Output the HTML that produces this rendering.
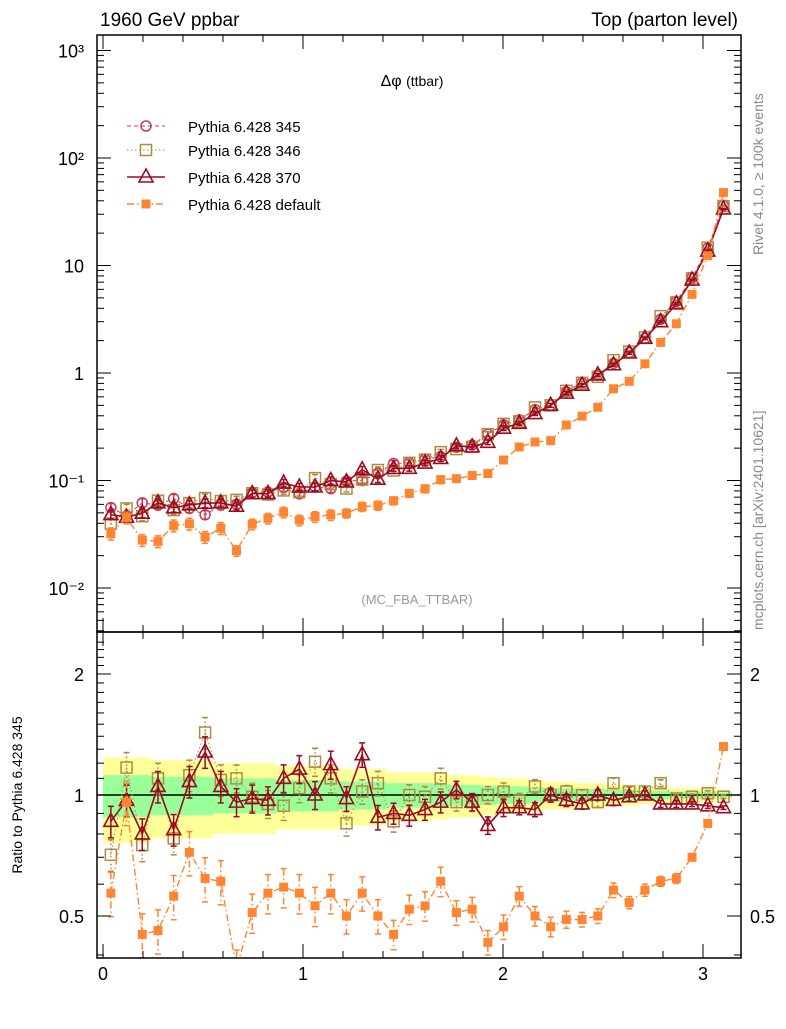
<!DOCTYPE html>
<html><head><meta charset="utf-8"><style>
body{margin:0;background:#fff;}
svg text{font-family:"Liberation Sans",sans-serif;}
</style></head><body>
<svg id="c" width="786" height="1024" xmlns="http://www.w3.org/2000/svg">
<rect width="786" height="1024" fill="#fff"/>
<g id="bands"></g><g id="marks"></g><g id="axes"></g>
<text x="100" y="26" font-size="19">1960 GeV ppbar</text>
<text x="738" y="26" font-size="19" text-anchor="end">Top (parton level)</text>
<text x="412" y="86" font-size="16" text-anchor="middle">Δφ <tspan font-size="14">(ttbar)</tspan></text>
<text x="417" y="604" font-size="13" fill="#999" text-anchor="middle">(MC_FBA_TTBAR)</text>
<text transform="translate(763,255) rotate(-90)" font-size="14" fill="#888">Rivet 4.1.0, ≥ 100k events</text>
<text transform="translate(763,630) rotate(-90)" font-size="14" fill="#888">mcplots.cern.ch [arXiv:2401.10621]</text>
<text transform="translate(22,795) rotate(-90)" font-size="14" text-anchor="middle">Ratio to Pythia 6.428 345</text>
<g id="legend"></g>
</svg>
<script>
const ref345=[0.056,0.047,0.062,0.059,0.068,0.055,0.048,0.059,0.060,0.077,0.078,0.086,0.075,0.087,0.084,0.099,0.100,0.117,0.144,0.146,0.158,0.167,0.204,0.214,0.27,0.33,0.366,0.456,0.50,0.67,0.81,0.96,1.23,1.55,2.1,3.16,4.63,7.7,14.5,36.1];
const r346=[0.71,1.17,0.75,1.10,0.78,1.12,1.43,1.09,1.10,0.99,0.95,0.94,1.04,1.21,1.10,0.85,1.02,1.07,0.86,1.0,0.99,1.10,0.96,0.96,1.0,1.02,0.97,1.05,1.0,1.02,1.0,0.96,1.07,1.02,1.02,1.07,0.98,0.99,1.01,0.99];
const r370=[0.86,0.97,0.80,1.05,0.82,1.08,1.28,1.05,0.96,0.98,0.97,1.10,1.16,1.0,1.19,0.98,1.26,0.88,0.90,0.89,0.92,0.96,1.03,0.96,0.84,0.93,0.93,0.92,1.0,0.97,0.95,1.0,0.97,0.99,1.0,0.95,0.95,0.95,0.94,0.93];
const rDef=[0.57,0.96,0.45,0.46,0.56,0.72,0.62,0.61,0.37,0.51,0.57,0.59,0.57,0.53,0.57,0.50,0.57,0.50,0.45,0.52,0.53,0.61,0.51,0.52,0.43,0.47,0.56,0.50,0.47,0.49,0.49,0.50,0.58,0.54,0.58,0.61,0.62,0.70,0.85,1.32];
const relErr=[0.09,0.09,0.09,0.09,0.09,0.09,0.09,0.09,0.08,0.08,0.08,0.08,0.08,0.08,0.08,0.07,0.07,0.07,0.06,0.06,0.06,0.06,0.05,0.05,0.05,0.05,0.04,0.04,0.04,0.035,0.03,0.03,0.03,0.025,0.025,0.02,0.02,0.015,0.015,0.01];
const bandG=[0.12,0.12,0.12,0.11,0.11,0.11,0.11,0.10,0.10,0.10,0.10,0.09,0.09,0.09,0.09,0.08,0.08,0.08,0.07,0.07,0.07,0.065,0.06,0.06,0.055,0.05,0.05,0.045,0.04,0.04,0.035,0.035,0.03,0.03,0.025,0.025,0.02,0.02,0.02,0.015];
const xTicks=[0,1,2,3];
const mainTicks=[3,2,1,0,-1,-2];
const mainTickLabels=["10³","10²","10","1","10⁻¹","10⁻²"];
const ratioTicks=[2,1,0.5];
const ratioTickLabels=["2","1","0.5"];
const NS="http://www.w3.org/2000/svg";
const L=97,R=741,MT=35,MB=632,RB=958,NB=40,BW=Math.PI/NB;
const X=v=>103+200*v;
const YM=v=>373-107.5*Math.log10(v);
const YR=v=>795-402*Math.log10(v);
function mk(p,t,a){const e=document.createElementNS(NS,t);for(const k in a)e.setAttribute(k,a[k]);p.appendChild(e);return e;}
const bands=document.getElementById('bands'),marks=document.getElementById('marks'),axes=document.getElementById('axes');
// bands
for(let i=0;i<NB;i++){const x0=X(i*BW),x1=X((i+1)*BW);
 const y=mk(bands,'rect',{x:x0,y:YR(1+2*bandG[i]),width:x1-x0+0.5,height:YR(1-2*bandG[i])-YR(1+2*bandG[i]),fill:'#ffff99'});
 
 }
for(let i=0;i<NB;i++){const x0=X(i*BW),x1=X((i+1)*BW);
 const g=mk(bands,'rect',{x:x0,y:YR(1+bandG[i]),width:x1-x0+0.5,height:YR(1-bandG[i])-YR(1+bandG[i]),fill:'#99ff99'});
 
 }
const ones=mk(bands,'line',{x1:L,x2:R,y1:YR(1),y2:YR(1),stroke:'#000','stroke-width':1.5});


// clip
const defs=mk(document.getElementById('c'),'defs',{});
const c1=mk(defs,'clipPath',{id:'cm'});mk(c1,'rect',{x:L,y:MT,width:R-L,height:MB-MT});
const c2=mk(defs,'clipPath',{id:'cr'});mk(c2,'rect',{x:L,y:MB,width:R-L,height:RB-MB});
const series=[
 {name:'pythia-345',ratio:null,col:'#c8385a',dash:'4,3',m:'circle',fill:'none',w:1},
 {name:'pythia-346',ratio:r346,col:'#b08a40',dash:'1.5,2.5',m:'square',fill:'none',w:1},
 {name:'pythia-370',ratio:r370,col:'#9b0a20',dash:'',m:'tri',fill:'none',w:1.6},
 {name:'pythia-default',ratio:rDef,col:'#ff8533',dash:'7,3,1.5,3',m:'fsquare',fill:'#ff8533',w:1.4}];
function marker(g,m,x,y,col,fill){
 if(m==='circle')return mk(g,'circle',{cx:x,cy:y,r:5,fill:'none',stroke:col,'stroke-width':1.5});
 if(m==='square')return mk(g,'rect',{x:x-5.5,y:y-5.5,width:11,height:11,fill:'none',stroke:col,'stroke-width':1.5});
 if(m==='fsquare')return mk(g,'rect',{x:x-4.5,y:y-4.5,width:9,height:9,fill:col});
 return mk(g,'path',{d:`M${x},${y-8}L${x+7},${y+5}L${x-7},${y+5}Z`,fill:'none',stroke:col,'stroke-width':1.6});
}
function draw(panel,s){
 const g=mk(marks,'g',{'clip-path':panel==='main'?'url(#cm)':'url(#cr)'});
 
 
 const Yf=panel==='main'?YM:YR;
 const vals=[];
 for(let i=0;i<NB;i++){const r=s.ratio?s.ratio[i]:1;vals.push(panel==='main'?ref345[i]*r:r);}
 if(panel==='ratio'&&!s.ratio)return;
 const pts=vals.map((v,i)=>[X((i+0.5)*BW),Yf(v)]);
 const ln=mk(g,'polyline',{points:pts.map(p=>p.join(',')).join(' '),fill:'none',stroke:s.col,'stroke-width':s.w,'stroke-dasharray':s.dash});
 
 
 vals.forEach((v,i)=>{const x=pts[i][0];const e=relErr[i]*(s.name==='pythia-default'?1.4:1);
  const y1=Yf(v*(1+e)),y2=Yf(v*(1-e));
  mk(g,'line',{x1:x,x2:x,y1:y1,y2:y2,stroke:s.col,'stroke-width':1.5,'stroke-dasharray':s.dash&&s.name!=='pythia-345'?s.dash:''});
  mk(g,'line',{x1:x-3,x2:x+3,y1:y1,y2:y1,stroke:s.col,'stroke-width':1.5});
  mk(g,'line',{x1:x-3,x2:x+3,y1:y2,y2:y2,stroke:s.col,'stroke-width':1.5});
  const mm=marker(g,s.m,x,pts[i][1],s.col,s.fill);
  
  });
}
series.forEach(s=>{draw('main',s);draw('ratio',s);});
// axes frames
mk(axes,'rect',{x:L,y:MT,width:R-L,height:MB-MT,fill:'none',stroke:'#000','stroke-width':1.5});
mk(axes,'rect',{x:L,y:MB,width:R-L,height:RB-MB,fill:'none',stroke:'#000','stroke-width':1.5});
// x ticks
for(let v=0;v<=3.2;v+=0.2){const x=X(v);if(x<L||x>R)continue;const maj=Math.abs(v-Math.round(v))<1e-6;const h=maj?14:7;
 mk(axes,'line',{x1:x,x2:x,y1:MB,y2:MB-h,stroke:'#000'});mk(axes,'line',{x1:x,x2:x,y1:MT,y2:MT+h,stroke:'#000'});
 mk(axes,'line',{x1:x,x2:x,y1:RB,y2:RB-h,stroke:'#000'});mk(axes,'line',{x1:x,x2:x,y1:MB,y2:MB+h,stroke:'#000'});}
xTicks.forEach(v=>{const t=mk(axes,'text',{x:X(v),y:980,'font-size':18,'text-anchor':'middle'});t.textContent=v;
 
 });
// main y ticks
for(let d=-3;d<=3;d++){for(let k=1;k<10;k++){const y=YM(k*Math.pow(10,d));if(y<MT||y>MB)continue;const h=k===1?14:7;
 mk(axes,'line',{x1:L,x2:L+h,y1:y,y2:y,stroke:'#000'});mk(axes,'line',{x1:R,x2:R-h,y1:y,y2:y,stroke:'#000'});}}
mainTicks.forEach((d,i)=>{const t=mk(axes,'text',{x:84,y:YM(Math.pow(10,d))+7,'font-size':18,'text-anchor':'end'});t.textContent=mainTickLabels[i];
 
 });
// ratio ticks
for(let v=0.4;v<=2.5;v+=0.1){const y=YR(v);if(y<MB||y>RB)continue;const maj=[0.5,1,2].some(q=>Math.abs(q-v)<1e-6);const h=maj?14:7;
 mk(axes,'line',{x1:L,x2:L+h,y1:y,y2:y,stroke:'#000'});mk(axes,'line',{x1:R,x2:R-h,y1:y,y2:y,stroke:'#000'});}
ratioTicks.forEach((v,i)=>{const t=mk(axes,'text',{x:84,y:YR(v)+7,'font-size':18,'text-anchor':'end'});t.textContent=ratioTickLabels[i];
 
 
 const t2=mk(axes,'text',{x:750,y:YR(v)+7,'font-size':18});t2.textContent=ratioTickLabels[i];
 
 });
// legend
const labels=['Pythia 6.428 345','Pythia 6.428 346','Pythia 6.428 370','Pythia 6.428 default'];
const lg=document.getElementById('legend');
[126,150,177,204].forEach((y,i)=>{const s=series[i];const g=mk(lg,'g',{});
 
 
 mk(g,'line',{x1:127,x2:165,y1:y,y2:y,stroke:s.col,'stroke-width':s.w,'stroke-dasharray':s.dash});
 marker(g,s.m,146,y,s.col,s.fill);
 const t=mk(g,'text',{x:188,y:y+6,'font-size':15});t.textContent=labels[i];});
</script>
</body></html>
